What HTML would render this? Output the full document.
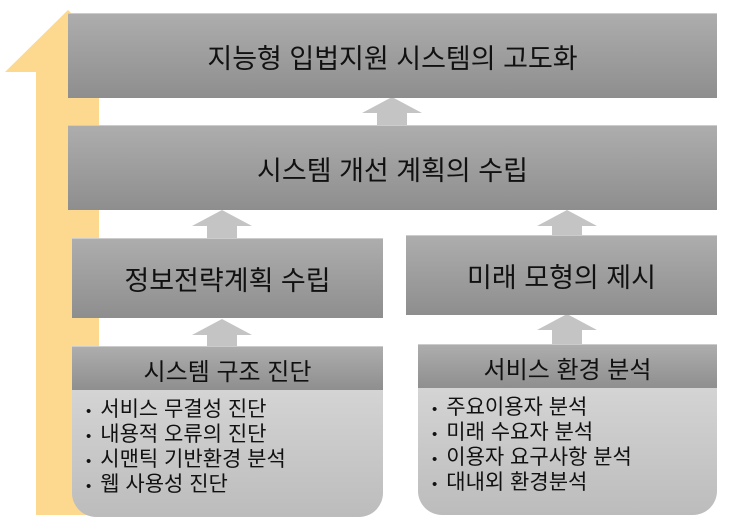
<!DOCTYPE html>
<html><head><meta charset="utf-8"><style>
body{margin:0;width:729px;height:527px;background:#fff;position:relative;overflow:hidden;font-family:"Liberation Sans","Noto Sans CJK KR",sans-serif;color:#111}
.b{position:absolute;background:linear-gradient(#adadad,#8e8e8e);display:flex;align-items:center;justify-content:center;border-top:1px solid #ccc}
.body{position:absolute;background:linear-gradient(#d4d4d4,#bcbcbc);border-radius:0 0 24px 24px;font-size:21px;line-height:23px;box-sizing:border-box}
.body div:before{content:"•";margin-right:9px;font-size:15px}
</style></head><body>
<svg width="729" height="527" style="position:absolute;left:0;top:0">
<polygon points="68,10 5,72 36,72 36,515 99,515 99,72 131,72" fill="#fdd98f"/>
<g fill="#c4c4c4">
<polygon points="392,97 362,113 377,113 377,126 407,126 407,113 422,113"/>
<polygon points="222,210 192,226 207,226 207,239 237,239 237,226 252,226"/>
<polygon points="222,319 192,335 207,335 207,347 237,347 237,335 252,335"/>
<polygon points="567,210 537,226 552,226 552,236 582,236 582,226 597,226"/>
<polygon points="567,314 537,330 552,330 552,345 582,345 582,330 597,330"/>
</g>
</svg>
<div class="b" style="left:68px;top:13px;width:649px;height:84px;font-size:27px">지능형 입법지원 시스템의 고도화</div>
<div class="b" style="left:68px;top:125px;width:649px;height:84px;font-size:27px">시스템 개선 계획의 수립</div>
<div class="b" style="left:72px;top:238px;width:311px;height:79px;font-size:27px">정보전략계획 수립</div>
<div class="b" style="left:406px;top:235px;width:311px;height:79px;font-size:27px">미래 모형의 제시</div>
<div class="b" style="left:72px;top:346px;width:311px;height:44px;font-size:24px">시스템 구조 진단</div>
<div class="body" style="left:72px;top:390px;width:311px;height:127px;padding:8px 0 0 14px">
<div>서비스 무결성 진단</div><div>내용적 오류의 진단</div><div>시맨틱 기반환경 분석</div><div>웹 사용성 진단</div></div>
<div class="b" style="left:418px;top:344px;width:299px;height:44px;font-size:24px">서비스 환경 분석</div>
<div class="body" style="left:418px;top:388px;width:299px;height:127px;padding:8px 0 0 14px">
<div>주요이용자 분석</div><div>미래 수요자 분석</div><div>이용자 요구사항 분석</div><div>대내외 환경분석</div></div>
</body></html>
